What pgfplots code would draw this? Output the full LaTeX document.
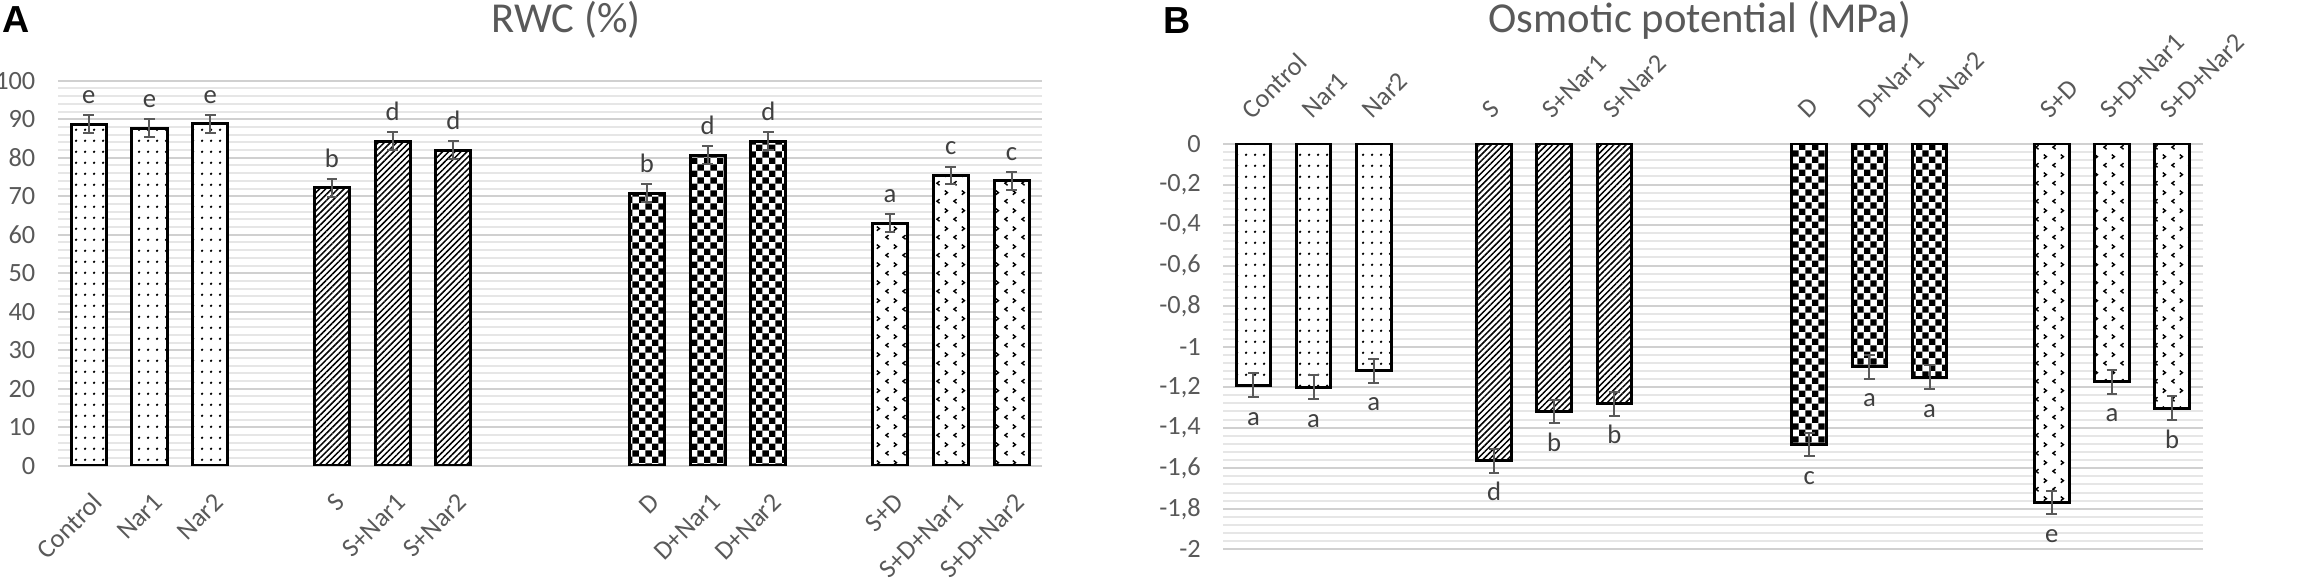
\documentclass[border=0pt]{standalone}
\usepackage{fontspec}
\setmainfont{Carlito}
\newfontfamily\arialfont{Liberation Sans}
\usepackage{pgfplots}
\usepackage{pgfplotstable}
\pgfplotsset{compat=1.18}
\usetikzlibrary{patterns.meta}
\definecolor{txt}{HTML}{595959}
\definecolor{lbl}{HTML}{404040}
\definecolor{majg}{HTML}{D0D0D0}
\definecolor{ming}{HTML}{E6E6E6}

\tikzdeclarepattern{name=sdots, type=uncolored,
  bounding box={(0pt,0pt) and (2.7pt,3.2pt)}, tile size={(2.7pt,3.2pt)},
  code={\fill (1.35pt,1.6pt) circle (0.42pt);}}
\tikzdeclarepattern{name=checker, type=uncolored,
  bounding box={(0pt,0pt) and (4pt,4pt)}, tile size={(4pt,4pt)},
  code={\fill (0pt,0pt) rectangle (2pt,2pt); \fill (2pt,2pt) rectangle (4pt,4pt);}}
\tikzdeclarepattern{name=chevron, type=uncolored,
  bounding box={(0pt,0pt) and (5pt,5.4pt)}, tile size={(5pt,5.4pt)},
  code={\draw[line width=0.45pt] (1.7pt,0.55pt) -- (0.9pt,1.2pt) -- (1.7pt,1.85pt);
        \draw[line width=0.45pt] (3.3pt,3.25pt) -- (4.1pt,3.9pt) -- (3.3pt,4.55pt);}}

\pgfplotsset{
  panel/.style={
    scale only axis,
    ybar, bar width=0.576, bar shift=0pt,
    axis line style={draw=none},
    major tick length=0pt, minor tick length=0pt,
    ymajorgrids, yminorgrids, minor y tick num=4,
    major grid style={majg, line width=0.6pt},
    minor grid style={ming, line width=0.6pt},
    tick label style={font=\fontsize{7.9}{9}\selectfont, text=txt},
    /pgf/number format/assume math mode=true,
    yticklabel style={anchor=east, inner sep=0pt, xshift=-6.6pt},
    nodes near coords, point meta=explicit symbolic,
    error bars/y dir=both, error bars/y explicit,
    error bars/error bar style={txt, line width=0.6pt},
    error bars/error mark options={rotate=90, mark size=1.6pt, line width=0.6pt, txt},
  },
  bardraw/.style={draw=black, line width=0.9pt, preaction={fill=white}, pattern color=black},
  hatch/.style={pattern={Lines[angle=45,distance=1.3pt,line width=0.45pt]}},
}

\begin{document}
\begin{tikzpicture}
\path[use as bounding box] (0,0) rectangle (694.5pt,174.6pt);

\begin{axis}[panel,
  at={(17.4pt,34.89pt)}, anchor=south west, width=295.2pt, height=115.5pt,
  xmin=-0.505, xmax=15.68, ymin=0, ymax=100,
  ytick={0,10,20,30,40,50,60,70,80,90,100},
  xtick={0,1,2,4,5,6,9.18,10.18,11.18,13.18,14.18,15.18},
  xticklabels={Control,Nar1,Nar2,S,S+Nar1,S+Nar2,D,D+Nar1,D+Nar2,S+D,S+D+Nar1,S+D+Nar2},
  xticklabel style={xshift=2.7pt, yshift=-9.6pt, rotate=45, anchor=east, inner sep=0pt},
  every node near coord/.append style={anchor=base, yshift=6.2pt, font=\fontsize{8}{9}\selectfont, text=lbl},
]
\addplot[bardraw, pattern=sdots] table[x=x,y=y,y error=e,meta=l] {
x y e l
0 88.7 2.4 e
1 87.7 2.4 e
2 88.8 2.4 e
};
\addplot[bardraw, hatch] table[x=x,y=y,y error=e,meta=l] {
x y e l
4 72.2 2.3 b
5 84.3 2.3 d
6 82.0 2.3 d
};
\addplot[bardraw, pattern=checker] table[x=x,y=y,y error=e,meta=l] {
x y e l
9.18 70.8 2.3 b
10.18 80.7 2.3 d
11.18 84.3 2.3 d
};
\addplot[bardraw, pattern=chevron] table[x=x,y=y,y error=e,meta=l] {
x y e l
13.18 63.0 2.3 a
14.18 75.4 2.3 c
15.18 74.0 2.3 c
};
\end{axis}

\begin{axis}[panel,
  at={(367pt,9.81pt)}, anchor=south west, width=294pt, height=121.6pt,
  xmin=-0.5, xmax=15.79, ymin=-2, ymax=0,
  ytick={-2,-1.8,-1.6,-1.4,-1.2,-1,-0.8,-0.6,-0.4,-0.2,0},
  /pgf/number format/use comma,
  xtick={0,1,2,4,5,6,9.24,10.24,11.24,13.27,14.27,15.27},
  xticklabels={Control,Nar1,Nar2,S,S+Nar1,S+Nar2,D,D+Nar1,D+Nar2,S+D,S+D+Nar1,S+D+Nar2},
  xticklabel pos=upper,
  xticklabel style={xshift=-2.3pt, yshift=8.9pt, rotate=45, anchor=west, inner sep=0pt},
  every node near coord/.append style={anchor=base, yshift=-12pt, font=\fontsize{8}{9}\selectfont, text=lbl},
]
\addplot[bardraw, pattern=sdots] table[x=x,y=y,y error=e,meta=l] {
x y e l
0 -1.19 0.058 a
1 -1.20 0.058 a
2 -1.12 0.058 a
};
\addplot[bardraw, hatch] table[x=x,y=y,y error=e,meta=l] {
x y e l
4 -1.564 0.058 d
5 -1.32 0.058 b
6 -1.283 0.058 b
};
\addplot[bardraw, pattern=checker] table[x=x,y=y,y error=e,meta=l] {
x y e l
9.24 -1.482 0.058 c
10.24 -1.10 0.058 a
11.24 -1.15 0.058 a
};
\addplot[bardraw, pattern=chevron] table[x=x,y=y,y error=e,meta=l] {
x y e l
13.27 -1.768 0.058 e
14.27 -1.174 0.058 a
15.27 -1.303 0.058 b
};
\end{axis}

\node[anchor=base, font=\fontsize{12.8}{15}\selectfont, text=txt] at (169.8pt,164.9pt) {RWC (\%)};
\node[anchor=base, font=\fontsize{12.8}{15}\selectfont, text=txt] at (510pt,164.8pt) {Osmotic potential (MPa)};
\node[anchor=base west, inner sep=0pt, font=\arialfont\bfseries\fontsize{11.3}{13}\selectfont] at (0.6pt,164.7pt) {A};
\node[anchor=base west, inner sep=0pt, font=\arialfont\bfseries\fontsize{11.3}{13}\selectfont] at (348.9pt,164.6pt) {B};
\end{tikzpicture}
\end{document}
